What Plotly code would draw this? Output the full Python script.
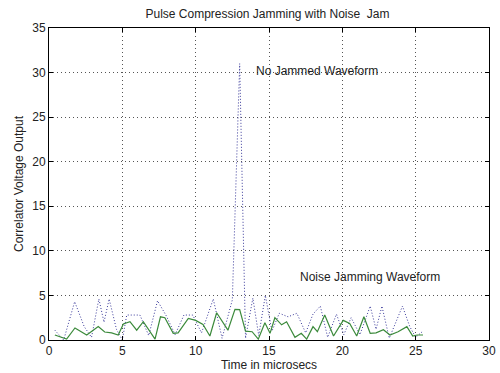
import plotly.graph_objects as go

# No-jam (clean) compressed waveform
t_clean = [0.4, 1.0, 1.75, 2.4, 2.9, 3.4, 3.75, 4.1, 4.6, 5.0, 5.3, 6.2, 6.8, 7.4, 8.0,
           8.6, 9.2, 9.8, 10.4, 11.2, 11.8, 12.5, 13.0, 13.4, 13.9, 14.3, 14.75, 15.2,
           15.7, 16.3, 16.9, 17.5, 18.0, 18.5, 19.0, 19.6, 20.1, 20.6, 21.2, 21.9, 22.3,
           22.7, 23.2, 23.6, 24.1, 24.6, 25.0, 25.5]
v_clean = [1.1, 0.0, 4.3, 1.5, 0.3, 4.6, 2.0, 4.6, 1.2, 0.0, 2.8, 2.8, 0.5, 4.4, 2.7,
           0.6, 2.8, 2.8, 0.8, 4.6, 0.2, 4.5, 31.0, 0.2, 4.7, 0.5, 5.0, 1.0,
           3.0, 2.6, 3.0, 0.8, 2.9, 3.8, 0.3, 2.9, 0.6, 2.5, 0.6, 3.8, 1.2,
           3.8, 0.2, 1.8, 3.8, 1.5, 0.3, 1.0]

# Noise jammed waveform
t_jam = [0.4, 1.2, 1.77, 2.57, 3.36, 3.8, 4.27, 4.72, 5.07, 5.52, 5.98, 6.43, 7.23, 7.6,
         7.9, 8.47, 8.8, 9.5, 10.0, 10.5, 10.97, 11.43, 12.2, 12.68, 13.0, 13.4, 13.85,
         14.27, 14.72, 15.07, 15.4, 15.86, 16.2, 16.77, 17.2, 17.57, 18.0, 18.3, 18.8,
         19.4, 20.06, 20.5, 20.98, 21.47, 21.9, 22.3, 22.8, 23.25, 23.8, 24.4, 24.8,
         25.1, 25.5]
v_jam = [0.56, 0.1, 1.35, 0.56, 1.5, 0.9, 0.8, 0.56, 1.8, 2.05, 1.1, 2.05, 0.1, 2.6,
         2.5, 0.75, 0.8, 2.43, 2.2, 1.75, 0.45, 3.06, 1.1, 3.44, 3.4, 1.0, 0.93,
         0.1, 1.94, 0.75, 2.5, 1.7, 2.05, 0.3, 0.75, 0.1, 1.5, 0.93, 2.8,
         0.45, 2.2, 1.85, 0.45, 2.6, 0.75, 0.8, 1.15, 0.56, 0.93, 1.5, 0.45,
         0.56, 0.56]

x_ticks = [0, 5, 10, 15, 20, 25, 30]
y_ticks = [0, 5, 10, 15, 20, 25, 30, 35]

fig = go.Figure()
fig.add_trace(go.Scatter(x=t_clean, y=v_clean, mode="lines",
                         line=dict(color="#38389a", width=1, dash="1px,2px"),
                         showlegend=False))
fig.add_trace(go.Scatter(x=t_jam, y=v_jam, mode="lines",
                         line=dict(color="#3b8a3b", width=1.2),
                         showlegend=False))

fig.add_annotation(x=14.0, y=30.2, text="No Jammed Waveform", showarrow=False,
                   xanchor="left", yanchor="middle",
                   font=dict(size=12, color="#222"))
fig.add_annotation(x=16.95, y=7.1, text="Noise Jamming Waveform", showarrow=False,
                   xanchor="left", yanchor="middle",
                   font=dict(size=12, color="#222"))

axis_common = dict(showline=True, linecolor="black", linewidth=1, mirror="ticks",
                   ticks="inside", ticklen=4, tickcolor="black", automargin=False,
                   showgrid=True, gridcolor="#555", griddash="1px,3px", gridwidth=1,
                   zeroline=False, tickfont=dict(size=12, color="#222"))

fig.update_layout(
    width=500, height=373,
    margin=dict(l=49, r=11, t=28, b=33),
    paper_bgcolor="white", plot_bgcolor="white",
    font=dict(family="Liberation Sans, Arial, sans-serif", size=12, color="#222"),
    title=dict(text="Pulse Compression Jamming with Noise\u00a0 Jam", x=0.535, xanchor="center",
               y=0.962, yanchor="middle", font=dict(size=12, color="#222")),
    xaxis=dict(range=[0, 30], tickvals=x_ticks,
               title=dict(text="Time in microsecs", standoff=0, font=dict(size=12)),
               **axis_common),
    yaxis=dict(range=[0, 35], tickvals=y_ticks,
               title=dict(text="Correlator Voltage Output", standoff=6, font=dict(size=12)),
               **axis_common),
)

fig.write_html("out.html", config={"displayModeBar": False},
               post_script="document.body.style.margin='0px';document.body.style.overflow='hidden';")
